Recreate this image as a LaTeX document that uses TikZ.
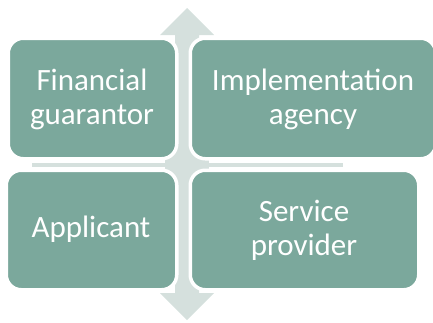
\documentclass[tikz,border=0pt]{standalone}
\usepackage{fontspec}
\setmainfont{Carlito}
\definecolor{boxteal}{HTML}{7BA89C}
\definecolor{arrowgray}{HTML}{D5E0DD}
\begin{document}
\begin{tikzpicture}[x=1pt,y=-1pt,
  cell/.style={fill=boxteal,draw=white,line width=3.5pt,rounded corners=15pt},
  celltext/.style={text=white,align=center,font=\fontsize{31}{34}\selectfont},
  bg/.style={fill=arrowgray,draw=none}]
\useasboundingbox (0,0) rectangle (433,322);
% background arrow and bar
\path[bg] (187,8) -- (214,35) -- (199,35) -- (199,293) -- (214,293) -- (187,320)
  -- (160,293) -- (175,293) -- (175,35) -- (160,35) -- cycle;
\path[bg] (32,162.5) rectangle (343,166.5);
\path[bg] (165,150) rectangle (209,178);
% boxes
\path[cell] (8.25,38.25) rectangle (176.75,158.75);
\path[cell] (190.25,38.25) rectangle (435.75,158.75);
\path[cell] (6.25,170.25) rectangle (176.75,289.75);
\path[cell] (190.25,170.25) rectangle (418.75,289.75);
% texts
\node[celltext] (fg) at (92,99) {Financial\\guarantor};
\node[celltext] (ia) at (313,99) {Implementation\\agency};
\node[celltext] (ap) at (91,229) {Applicant};
\node[celltext] (sp) at (304,230) {Service\\provider};
\end{tikzpicture}
\end{document}
